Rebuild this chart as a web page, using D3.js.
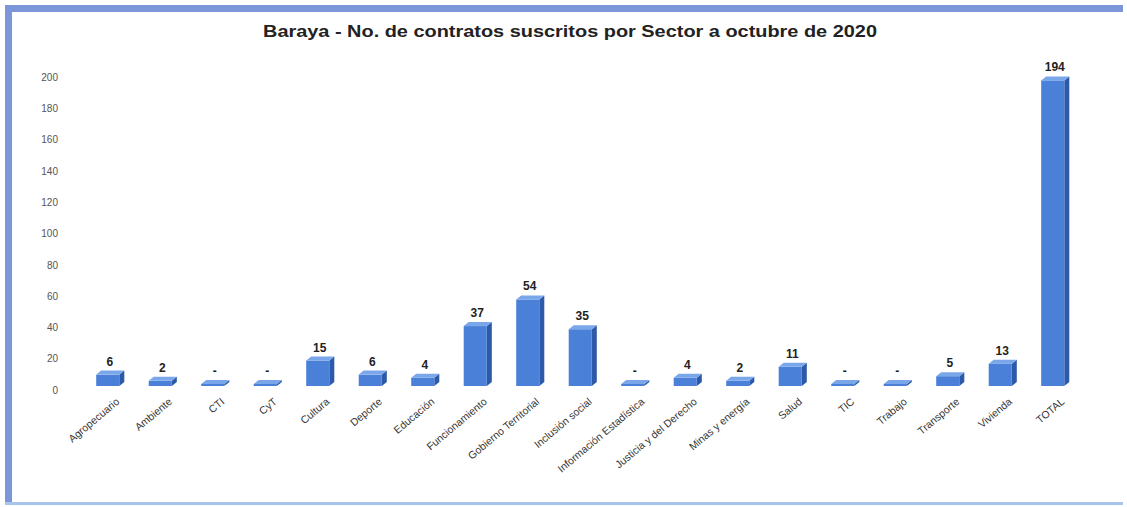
<!DOCTYPE html>
<html><head><meta charset="utf-8">
<script src="https://cdn.jsdelivr.net/npm/d3@7"></script>
<style>body{margin:0;background:#fff;}svg{display:block;}</style>
</head><body>
<svg id="c" width="1127" height="507"></svg>
<script>
const categories = ["Agropecuario","Ambiente","CTI","CyT","Cultura","Deporte","Educación","Funcionamiento","Gobierno Territorial","Inclusión social","Información Estadística","Justicia y del Derecho","Minas y energía","Salud","TIC","Trabajo","Transporte","Vivienda","TOTAL"];
const values = [6,2,0,0,15,6,4,37,54,35,0,4,2,11,0,0,5,13,194];
const labels = ["6","2","-","-","15","6","4","37","54","35","-","4","2","11","-","-","5","13","194"];
const yTicks = [0,20,40,60,80,100,120,140,160,180,200];

const svg = d3.select("#c");
// frame
svg.append("rect").attr("x",0).attr("y",0).attr("width",1127).attr("height",507).attr("fill","#fff");
svg.append("rect").attr("x",5).attr("y",5).attr("width",1118).attr("height",7).attr("fill","#7d95d9");
svg.append("rect").attr("x",5).attr("y",5).attr("width",7).attr("height",500).attr("fill","#7d95d9");
svg.append("rect").attr("x",5).attr("y",502).attr("width",1118).attr("height",3).attr("fill","#a9c4ea");

svg.append("text").attr("x",570).attr("y",37).attr("text-anchor","middle")
  .attr("font-family","Liberation Sans, Arial, sans-serif").attr("font-weight","bold").attr("font-size",17)
  .attr("textLength",614).attr("lengthAdjust","spacingAndGlyphs")
  .attr("fill","#222").text("Baraya - No. de contratos suscritos por Sector a octubre de 2020");

const x = d3.scaleBand().domain(categories).range([81.5,1079]).paddingInner(0.56).paddingOuter(0.28);
const y = d3.scaleLinear().domain([0,200]).range([390,77]);

const yAxis = d3.axisLeft(y).tickValues(yTicks).tickSize(0).tickPadding(0);
const ga = svg.append("g").attr("transform","translate(58,0)").call(yAxis);
ga.select(".domain").remove();
ga.selectAll("text").attr("font-family","Liberation Sans, Arial, sans-serif").attr("font-size",10).attr("fill","#555");

const dx = 5, dy = 4;
const g = svg.append("g");
categories.forEach((c,i)=>{
  const v = values[i];
  const x0 = x(c), w = x.bandwidth();
  const yb = y(0) - 4;
  const yt = Math.min(y(v) - 6, yb - 1.5);
  g.append("path").attr("d",`M${x0+w},${yt} L${x0+w+dx},${yt-dy} L${x0+w+dx},${yb-dy} L${x0+w},${yb} Z`).attr("fill","#2c5aa8");
  g.append("rect").attr("x",x0).attr("y",yt).attr("width",w).attr("height",yb-yt).attr("fill","#4a80d8");
  g.append("path").attr("d",`M${x0},${yt} L${x0+dx},${yt-dy} L${x0+w+dx},${yt-dy} L${x0+w},${yt} Z`).attr("fill","#7aa6ea");
  g.append("text").attr("x",x0+w/2+2).attr("y",yt-dy-5).attr("text-anchor","middle")
    .attr("font-family","Liberation Sans, Arial, sans-serif").attr("font-weight","bold").attr("font-size",12)
    .attr("fill","#222").text(labels[i]);
});

const xAxis = d3.axisBottom(x).tickSize(0).tickPadding(0);
const gx = svg.append("g").attr("transform","translate(0,400)").call(xAxis);
gx.select(".domain").remove();
gx.selectAll("text").attr("font-family","Liberation Sans, Arial, sans-serif").attr("font-size",10.5).attr("fill","#333")
  .attr("text-anchor","end").attr("dy","0.35em").attr("transform","translate(10,0) rotate(-40)");
</script>
</body></html>
